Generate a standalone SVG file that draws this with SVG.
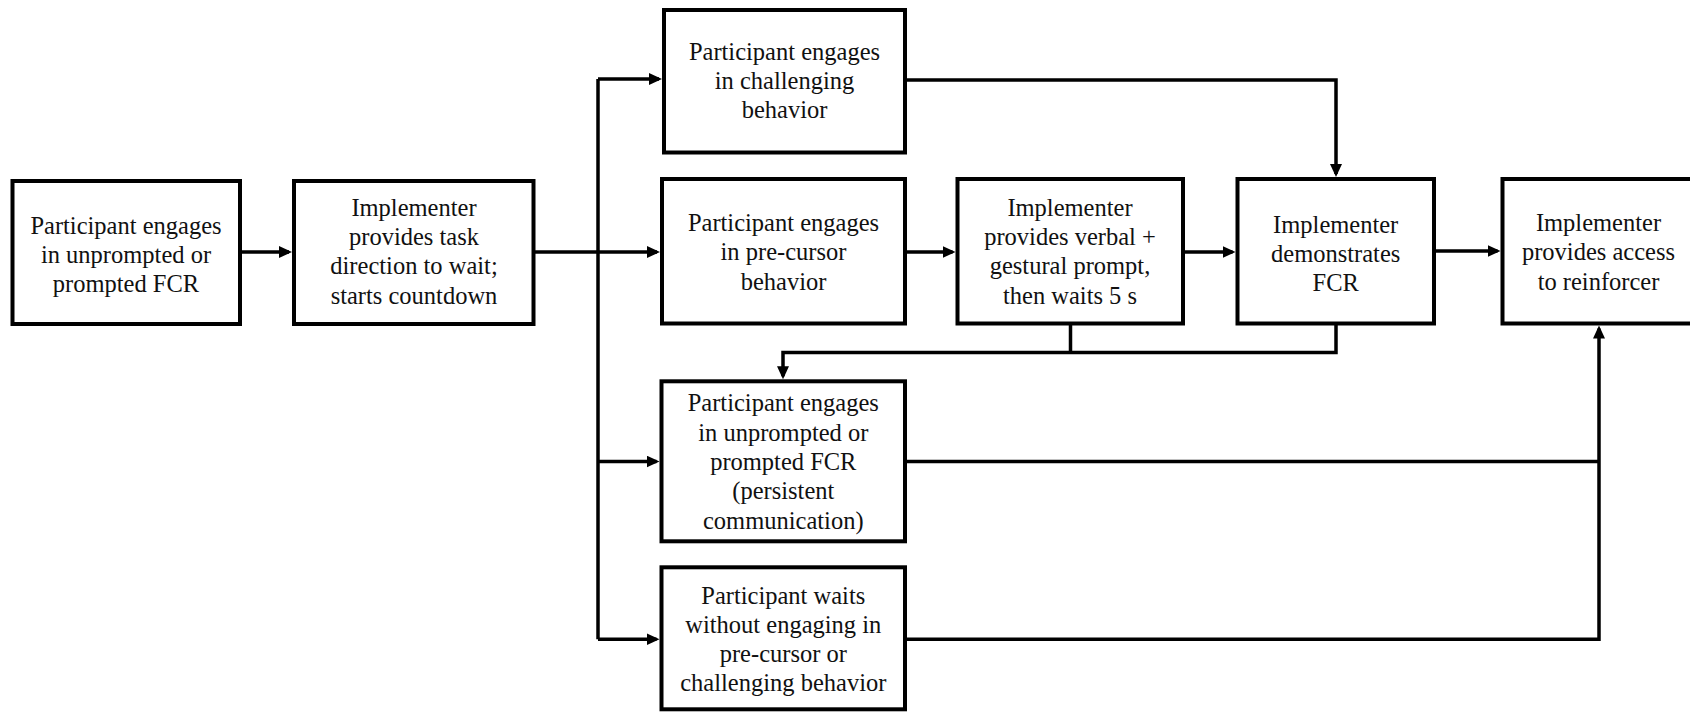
<svg xmlns="http://www.w3.org/2000/svg" width="1690" height="713" viewBox="0 0 1690 713">
<style>
.box{fill:#fff;stroke:#000;stroke-width:4}
.t{font-family:"Liberation Serif","Times New Roman",serif;font-size:24.5px;fill:#111;text-anchor:middle}
.c{fill:none;stroke:#000;stroke-width:3.5;stroke-linejoin:miter;stroke-linecap:butt}
.a{marker-end:url(#ah)}
</style>
<defs>
<marker id="ah" markerUnits="userSpaceOnUse" markerWidth="14" markerHeight="13" refX="10" refY="6" orient="auto">
<path d="M0,0 L13,6 L0,12 z" fill="#000"/>
</marker>
</defs>
<rect width="1690" height="713" fill="#fff"/>
<g id="connectors">
<path class="c a" d="M240,252 H289"/>
<path class="c" d="M533.5,252 H598"/>
<path class="c" d="M598,79 V639.3"/>
<path class="c a" d="M598,79 H659"/>
<path class="c a" d="M598,252 H657"/>
<path class="c a" d="M598,461.5 H656.5"/>
<path class="c a" d="M598,639.3 H656.5"/>
<path class="c a" d="M905,252 H952.5"/>
<path class="c a" d="M1183,252 H1232.5"/>
<path class="c a" d="M1434,251 H1497.5"/>
<path class="c a" d="M905,80 H1336 V174"/>
<path class="c" d="M1070.5,323.5 V352.5"/>
<path class="c a" d="M1336,323.5 V352.5 H783 V376.3"/>
<path class="c" d="M905,461.5 H1599"/>
<path class="c a" d="M905,639.3 H1599 V328.5"/>
</g>
<g id="n1">
<rect class="box" x="12.5" y="181" width="227.5" height="143"/>
<text class="t" x="126" y="233.5">Participant engages</text>
<text class="t" x="126" y="262.8">in unprompted or</text>
<text class="t" x="126" y="292.1">prompted FCR</text>
</g>
<g id="n2">
<rect class="box" x="294" y="181" width="239.5" height="143"/>
<text class="t" x="414" y="215.8">Implementer</text>
<text class="t" x="414" y="245">provides task</text>
<text class="t" x="414" y="274.3">direction to wait;</text>
<text class="t" x="414" y="303.5">starts countdown</text>
</g>
<g id="n3">
<rect class="box" x="664" y="10" width="241" height="142.5"/>
<text class="t" x="784.5" y="59.7">Participant engages</text>
<text class="t" x="784.5" y="89">in challenging</text>
<text class="t" x="784.5" y="118.3">behavior</text>
</g>
<g id="n4">
<rect class="box" x="662" y="179" width="243" height="144.5"/>
<text class="t" x="783.5" y="231">Participant engages</text>
<text class="t" x="783.5" y="260.3">in pre-cursor</text>
<text class="t" x="783.5" y="289.6">behavior</text>
</g>
<g id="n5">
<rect class="box" x="957.5" y="179" width="225.5" height="144.5"/>
<text class="t" x="1070" y="215.8">Implementer</text>
<text class="t" x="1070" y="245">provides verbal +</text>
<text class="t" x="1070" y="274.3">gestural prompt,</text>
<text class="t" x="1070" y="303.5">then waits 5 s</text>
</g>
<g id="n6">
<rect class="box" x="1237.5" y="179" width="196.5" height="144.5"/>
<text class="t" x="1335.7" y="232.6">Implementer</text>
<text class="t" x="1335.7" y="261.9">demonstrates</text>
<text class="t" x="1335.7" y="291.2">FCR</text>
</g>
<g id="n7">
<rect class="box" x="1502.5" y="179" width="192" height="144.5"/>
<text class="t" x="1598.5" y="231">Implementer</text>
<text class="t" x="1598.5" y="260.3">provides access</text>
<text class="t" x="1598.5" y="289.6">to reinforcer</text>
</g>
<g id="n8">
<rect class="box" x="661.5" y="381.3" width="243.5" height="160"/>
<text class="t" x="783.3" y="411.4">Participant engages</text>
<text class="t" x="783.3" y="440.7">in unprompted or</text>
<text class="t" x="783.3" y="470">prompted FCR</text>
<text class="t" x="783.3" y="499.3">(persistent</text>
<text class="t" x="783.3" y="528.6">communication)</text>
</g>
<g id="n9">
<rect class="box" x="661.5" y="567.3" width="243.5" height="142"/>
<text class="t" x="783.3" y="603.6">Participant waits</text>
<text class="t" x="783.3" y="632.9">without engaging in</text>
<text class="t" x="783.3" y="662.1">pre-cursor or</text>
<text class="t" x="783.3" y="691.4">challenging behavior</text>
</g>
</svg>
